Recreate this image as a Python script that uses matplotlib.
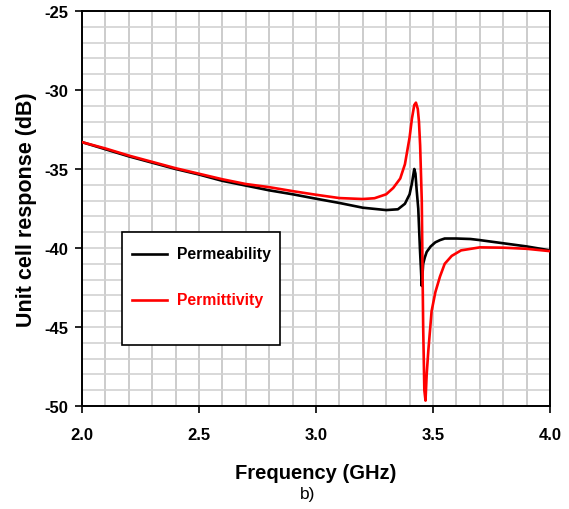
import matplotlib
matplotlib.use("Agg")
import matplotlib.pyplot as plt
from matplotlib.patches import Rectangle
from matplotlib.ticker import MultipleLocator

plt.rcParams['font.family'] = ['Liberation Sans', 'DejaVu Sans']
plt.rcParams['axes.unicode_minus'] = False

# Permeability-derived unit cell response
freq_mu = [2.00, 2.10, 2.20, 2.30, 2.40, 2.50, 2.60, 2.70, 2.80, 2.90,
           3.00, 3.10, 3.20, 3.30, 3.35, 3.38, 3.40, 3.41, 3.42, 3.425,
           3.43, 3.437, 3.444, 3.452, 3.458, 3.465, 3.473, 3.49, 3.51, 3.53,
           3.55, 3.60, 3.66, 3.70, 3.80, 3.90, 4.00]
resp_mu = [-33.3, -33.75, -34.2, -34.6, -35.0, -35.35, -35.75, -36.05, -36.35, -36.6,
           -36.88, -37.15, -37.45, -37.6, -37.55, -37.2, -36.6, -35.9, -35.0, -35.3,
           -36.3, -37.5, -40.0, -42.4, -41.0, -40.6, -40.25, -39.9, -39.64, -39.5,
           -39.4, -39.4, -39.43, -39.5, -39.7, -39.9, -40.15]

# Permittivity-derived unit cell response
freq_eps = [2.00, 2.10, 2.20, 2.30, 2.40, 2.50, 2.60, 2.70, 2.80, 2.90,
            3.00, 3.10, 3.20, 3.25, 3.30, 3.33, 3.36, 3.38, 3.40, 3.41,
            3.42, 3.427, 3.435, 3.44, 3.445, 3.452, 3.458, 3.463, 3.468, 3.473,
            3.48, 3.494, 3.51, 3.53, 3.55, 3.58, 3.62, 3.70, 3.80, 3.90, 4.00]
resp_eps = [-33.3, -33.7, -34.15, -34.55, -34.95, -35.3, -35.65, -35.95, -36.15, -36.4,
            -36.63, -36.84, -36.9, -36.85, -36.6, -36.2, -35.6, -34.7, -33.0, -31.8,
            -30.95, -30.8, -31.2, -32.0, -33.5, -37.0, -45.0, -49.0, -49.66, -48.0,
            -46.5, -44.0, -42.8, -41.8, -41.0, -40.5, -40.15, -39.96, -39.98, -40.05, -40.2]

series_labels = ['Permeability', 'Permittivity']
series_colors = ['#000000', '#ff0000']

x_ticks = [2.0, 2.5, 3.0, 3.5, 4.0]
x_tick_labels = ['2.0', '2.5', '3.0', '3.5', '4.0']
y_ticks = [-50, -45, -40, -35, -30, -25]

fig = plt.figure(figsize=(5.69, 5.10), dpi=100)
ax = fig.add_axes([82 / 569, 103 / 510, 468 / 569, 395 / 510])

ax.set_xlim(2.0, 4.0)
ax.set_ylim(-50, -25)

# fine grid: 0.1 GHz by 1 dB
ax.xaxis.set_minor_locator(MultipleLocator(0.1))
ax.yaxis.set_minor_locator(MultipleLocator(1))
ax.grid(which='both', axis='x', color='#c4c4c4', lw=1.2)
ax.grid(which='both', axis='y', color='#d2d2d2', lw=1.2)
ax.set_axisbelow(True)

ax.plot(freq_mu, resp_mu, color=series_colors[0], lw=1.9, zorder=3)
ax.plot(freq_eps, resp_eps, color=series_colors[1], lw=1.9, zorder=4)

ax.set_xticks(x_ticks)
ax.set_xticklabels(x_tick_labels)
ax.set_yticks(y_ticks)
ax.tick_params(which='major', direction='out', length=5, width=1.2, labelsize=12)
ax.tick_params(axis='x', pad=10)
ax.tick_params(axis='y', pad=5)
ax.tick_params(which='minor', length=0)
for lab in ax.get_xticklabels() + ax.get_yticklabels():
    lab.set_fontweight('bold')

for sp in ax.spines.values():
    sp.set_color('black')
    sp.set_linewidth(1.4)

ax.set_xlabel('Frequency (GHz)', fontsize=14.5, fontweight='bold', labelpad=15)
ax.set_ylabel('Unit cell response (dB)', fontsize=15.5, fontweight='bold', labelpad=5)

fig.text(308 / 569, 1 - 495 / 510, 'b)', fontsize=12.5, ha='center', va='center')

# legend box
tr = ax.transAxes
x0 = (121.7 - 82) / 468
x1 = (280 - 82) / 468
y_top = (407 - 233.3) / 395
y_bot = (407 - 346) / 395
ax.add_patch(Rectangle((x0, y_bot), x1 - x0, y_top - y_bot, transform=tr,
                       facecolor='white', edgecolor='black', lw=1.2, zorder=5))
row_y = [(407 - 255) / 395, (407 - 301) / 395]
lx0 = (131.7 - 82) / 468
lx1 = (166.7 - 82) / 468
tx = (176.7 - 82) / 468
for lab, col, yy in zip(series_labels, series_colors, row_y):
    ax.plot([lx0, lx1], [yy, yy], color=col, lw=1.9, transform=tr, zorder=6)
    ax.text(tx, yy, lab, color=col, fontsize=11.3, fontweight='bold',
            transform=tr, va='center', ha='left', zorder=6)

fig.savefig('out.png', dpi=100)
